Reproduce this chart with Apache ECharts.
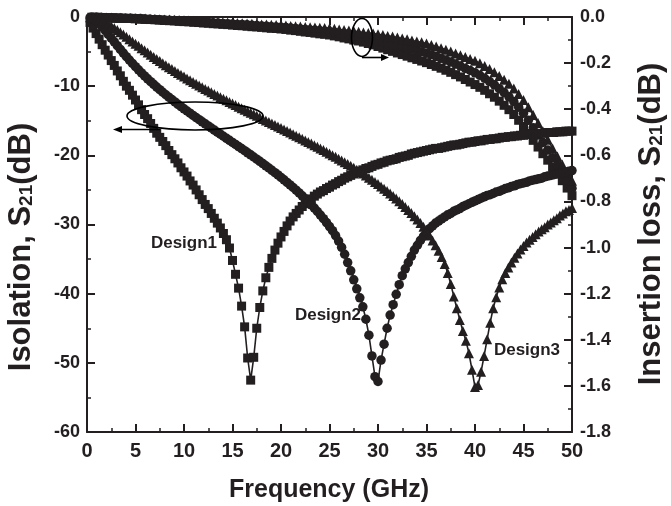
<!DOCTYPE html>
<html>
<head>
<meta charset="utf-8">
<script src="https://cdn.jsdelivr.net/npm/echarts@6/dist/echarts.min.js"></script>
<style>
html,body{margin:0;padding:0;background:#fff;}
#chart{width:671px;height:506px;}
</style>
</head>
<body>
<div id="chart"></div>
<script>
// Frequency grid of the isolation sweeps (GHz)
var freqIso = [0.3125,0.625,0.9375,1.25,1.5625,1.875,2.1875,2.5,2.8125,3.125,
3.4375,3.75,4.0625,4.375,4.6875,5,5.3125,5.625,5.9375,6.25,
6.5625,6.875,7.1875,7.5,7.8125,8.125,8.4375,8.75,9.0625,9.375,
9.6875,10,10.3125,10.625,10.9375,11.25,11.5625,11.875,12.1875,12.5,
12.8125,13.125,13.4375,13.75,14.0625,14.375,14.6875,15,15.3125,15.625,
15.9375,16.25,16.5625,16.875,17.1875,17.5,17.8125,18.125,18.4375,18.75,
19.0625,19.375,19.6875,20,20.3125,20.625,20.9375,21.25,21.5625,21.875,
22.1875,22.5,22.8125,23.125,23.4375,23.75,24.0625,24.375,24.6875,25,
25.3125,25.625,25.9375,26.25,26.5625,26.875,27.1875,27.5,27.8125,28.125,
28.4375,28.75,29.0625,29.375,29.6875,30,30.3125,30.625,30.9375,31.25,
31.5625,31.875,32.1875,32.5,32.8125,33.125,33.4375,33.75,34.0625,34.375,
34.6875,35,35.3125,35.625,35.9375,36.25,36.5625,36.875,37.1875,37.5,
37.8125,38.125,38.4375,38.75,39.0625,39.375,39.6875,40,40.3125,40.625,
40.9375,41.25,41.5625,41.875,42.1875,42.5,42.8125,43.125,43.4375,43.75,
44.0625,44.375,44.6875,45,45.3125,45.625,45.9375,46.25,46.5625,46.875,
47.1875,47.5,47.8125,48.125,48.4375,48.75,49.0625,49.375,49.6875,50];

// Isolation S21 (dB), left axis
var iso1 = [-0.8,-1.6,-2.4,-3.2,-4.0,-4.8,-5.5,-6.3,-7.0,-7.8,
-8.5,-9.3,-10.0,-10.6,-11.3,-12.0,-12.7,-13.4,-14.1,-14.7,
-15.4,-16.1,-16.8,-17.4,-18.0,-18.6,-19.3,-19.9,-20.5,-21.1,
-21.8,-22.4,-23.0,-23.7,-24.3,-25.0,-25.7,-26.4,-27.1,-27.7,
-28.4,-29.1,-29.8,-30.5,-31.3,-32.2,-33.4,-35.2,-37.2,-39.2,
-41.8,-44.8,-49.3,-52.5,-49.2,-45.0,-42.0,-39.6,-37.7,-36.2,
-34.9,-33.7,-32.7,-31.8,-31.0,-30.2,-29.5,-28.9,-28.4,-27.9,
-27.4,-27.0,-26.6,-26.3,-25.9,-25.6,-25.3,-25.1,-24.8,-24.6,
-24.3,-24.1,-23.8,-23.6,-23.3,-23.1,-22.9,-22.7,-22.5,-22.3,
-22.1,-21.9,-21.8,-21.6,-21.4,-21.3,-21.1,-21.0,-20.8,-20.7,
-20.6,-20.5,-20.3,-20.2,-20.1,-20.0,-19.8,-19.7,-19.6,-19.5,
-19.4,-19.3,-19.2,-19.1,-19.0,-19.0,-18.9,-18.8,-18.7,-18.6,
-18.5,-18.5,-18.4,-18.3,-18.2,-18.1,-18.1,-18.0,-17.9,-17.9,
-17.8,-17.7,-17.7,-17.6,-17.6,-17.5,-17.4,-17.4,-17.3,-17.3,
-17.2,-17.2,-17.1,-17.1,-17.0,-17.0,-16.9,-16.9,-16.9,-16.8,
-16.8,-16.7,-16.7,-16.7,-16.6,-16.6,-16.6,-16.5,-16.5,-16.5];

var iso2 = [-0.07,-0.26,-0.57,-0.97,-1.44,-1.95,-2.50,-3.04,-3.59,-4.14,
-4.69,-5.21,-5.73,-6.23,-6.72,-7.19,-7.64,-8.09,-8.52,-8.94,
-9.35,-9.74,-10.13,-10.51,-10.88,-11.24,-11.59,-11.94,-12.28,-12.62,
-12.95,-13.27,-13.59,-13.91,-14.23,-14.54,-14.84,-15.15,-15.45,-15.75,
-16.05,-16.35,-16.65,-16.94,-17.24,-17.54,-17.83,-18.13,-18.43,-18.73,
-19.02,-19.33,-19.63,-19.93,-20.24,-20.55,-20.87,-21.19,-21.51,-21.83,
-22.16,-22.50,-22.84,-23.19,-23.54,-23.91,-24.28,-24.65,-25.04,-25.44,
-25.85,-26.28,-26.71,-27.16,-27.63,-28.12,-28.63,-29.16,-29.72,-30.30,
-30.9,-31.6,-32.4,-33.3,-34.3,-35.5,-36.7,-38.0,-39.3,-40.6,
-41.9,-43.7,-46.0,-49.0,-52.0,-52.7,-49.6,-47.3,-45.0,-43.1,
-41.6,-40.1,-38.7,-37.4,-36.4,-35.5,-34.6,-33.7,-33.0,-32.3,
-31.7,-31.1,-30.6,-30.2,-29.8,-29.5,-29.2,-28.9,-28.6,-28.4,
-28.1,-27.9,-27.7,-27.4,-27.2,-27.0,-26.8,-26.6,-26.4,-26.2,
-26.0,-25.8,-25.7,-25.5,-25.3,-25.2,-25.0,-24.8,-24.7,-24.5,
-24.4,-24.2,-24.1,-24.0,-23.9,-23.7,-23.6,-23.5,-23.4,-23.3,
-23.1,-23.0,-22.9,-22.8,-22.7,-22.6,-22.5,-22.4,-22.3,-22.2];

var iso3 = [-0.02,-0.09,-0.21,-0.36,-0.55,-0.78,-1.02,-1.30,-1.58,-1.89,
-2.21,-2.53,-2.86,-3.20,-3.54,-3.85,-4.17,-4.50,-4.82,-5.14,
-5.46,-5.77,-6.07,-6.37,-6.67,-6.96,-7.25,-7.53,-7.81,-8.08,
-8.36,-8.62,-8.89,-9.15,-9.40,-9.66,-9.91,-10.16,-10.40,-10.64,
-10.88,-11.12,-11.36,-11.59,-11.82,-12.05,-12.28,-12.51,-12.74,-12.96,
-13.18,-13.41,-13.63,-13.85,-14.07,-14.29,-14.51,-14.73,-14.95,-15.17,
-15.39,-15.61,-15.83,-16.05,-16.27,-16.49,-16.71,-16.94,-17.16,-17.39,
-17.61,-17.84,-18.07,-18.30,-18.53,-18.77,-19.01,-19.24,-19.49,-19.73,
-19.98,-20.22,-20.48,-20.73,-20.99,-21.25,-21.52,-21.80,-22.07,-22.35,
-22.64,-22.93,-23.23,-23.53,-23.84,-24.16,-24.49,-24.82,-25.17,-25.52,
-25.88,-26.25,-26.64,-27.04,-27.46,-27.89,-28.33,-28.80,-29.29,-29.80,
-30.34,-30.91,-31.6,-32.3,-33.0,-33.8,-34.7,-35.7,-37.0,-38.6,
-40.4,-42.1,-43.8,-45.4,-46.8,-48.6,-51.0,-53.5,-53.2,-51.3,
-49.0,-46.6,-44.2,-42.1,-40.5,-39.1,-37.9,-37.0,-36.2,-35.5,
-34.8,-34.2,-33.6,-33.1,-32.6,-32.2,-31.8,-31.4,-31.0,-30.7,
-30.4,-30.0,-29.7,-29.4,-29.1,-28.7,-28.4,-28.1,-27.9,-27.6];

// Frequency grid of the insertion-loss sweeps (GHz)
var freqIL = [0.5,1,1.5,2,2.5,3,3.5,4,4.5,5,5.5,6,6.5,7,7.5,8,8.5,9,9.5,10,
10.5,11,11.5,12,12.5,13,13.5,14,14.5,15,15.5,16,16.5,17,17.5,18,18.5,19,19.5,20,
20.5,21,21.5,22,22.5,23,23.5,24,24.5,25,25.5,26,26.5,27,27.5,28,28.5,29,29.5,30,
30.5,31,31.5,32,32.5,33,33.5,34,34.5,35,35.5,36,36.5,37,37.5,38,38.5,39,39.5,40,
40.5,41,41.5,42,42.5,43,43.5,44,44.5,45,45.5,46,46.5,47,47.5,48,48.5,49,49.5,50];

// Insertion loss S21 (dB), right axis
var il1 = [-0.001,-0.001,-0.002,-0.003,-0.003,-0.004,-0.005,-0.006,-0.006,-0.007,
-0.008,-0.010,-0.011,-0.012,-0.013,-0.015,-0.016,-0.017,-0.019,-0.020,
-0.021,-0.023,-0.024,-0.026,-0.027,-0.029,-0.030,-0.032,-0.033,-0.035,
-0.037,-0.038,-0.040,-0.042,-0.043,-0.045,-0.047,-0.049,-0.050,-0.052,
-0.054,-0.057,-0.059,-0.062,-0.065,-0.067,-0.070,-0.073,-0.075,-0.078,
-0.082,-0.086,-0.091,-0.095,-0.100,-0.104,-0.109,-0.115,-0.121,-0.128,
-0.135,-0.142,-0.149,-0.156,-0.163,-0.170,-0.177,-0.184,-0.191,-0.198,
-0.206,-0.214,-0.222,-0.231,-0.240,-0.250,-0.260,-0.271,-0.282,-0.293,
-0.305,-0.318,-0.333,-0.348,-0.365,-0.383,-0.402,-0.423,-0.448,-0.475,
-0.505,-0.535,-0.564,-0.593,-0.621,-0.650,-0.680,-0.710,-0.742,-0.775];

var il2 = [-0.001,-0.001,-0.002,-0.003,-0.003,-0.004,-0.004,-0.005,-0.005,-0.006,
-0.007,-0.009,-0.010,-0.011,-0.012,-0.013,-0.014,-0.015,-0.016,-0.017,
-0.018,-0.020,-0.021,-0.022,-0.023,-0.025,-0.026,-0.028,-0.029,-0.030,
-0.032,-0.033,-0.034,-0.036,-0.037,-0.039,-0.040,-0.042,-0.043,-0.044,
-0.046,-0.048,-0.050,-0.052,-0.054,-0.056,-0.058,-0.060,-0.062,-0.064,
-0.067,-0.070,-0.074,-0.077,-0.081,-0.084,-0.088,-0.092,-0.097,-0.102,
-0.107,-0.112,-0.117,-0.123,-0.128,-0.134,-0.140,-0.145,-0.151,-0.157,
-0.164,-0.171,-0.179,-0.187,-0.195,-0.204,-0.213,-0.223,-0.232,-0.242,
-0.253,-0.266,-0.280,-0.294,-0.311,-0.328,-0.346,-0.367,-0.391,-0.418,
-0.448,-0.480,-0.512,-0.544,-0.577,-0.610,-0.643,-0.675,-0.709,-0.743];

var il3 = [0.000,-0.001,-0.001,-0.002,-0.002,-0.003,-0.003,-0.004,-0.004,-0.005,
-0.006,-0.007,-0.008,-0.009,-0.010,-0.011,-0.011,-0.012,-0.013,-0.014,
-0.015,-0.016,-0.017,-0.018,-0.019,-0.020,-0.022,-0.023,-0.024,-0.025,
-0.026,-0.027,-0.028,-0.029,-0.031,-0.032,-0.033,-0.034,-0.035,-0.036,
-0.037,-0.039,-0.040,-0.041,-0.043,-0.044,-0.045,-0.047,-0.048,-0.049,
-0.051,-0.054,-0.056,-0.059,-0.061,-0.064,-0.067,-0.069,-0.072,-0.075,
-0.078,-0.082,-0.085,-0.089,-0.093,-0.097,-0.102,-0.106,-0.110,-0.115,
-0.121,-0.128,-0.135,-0.142,-0.150,-0.158,-0.166,-0.174,-0.182,-0.190,
-0.201,-0.213,-0.226,-0.240,-0.256,-0.272,-0.290,-0.310,-0.334,-0.360,
-0.391,-0.425,-0.460,-0.495,-0.532,-0.570,-0.605,-0.640,-0.675,-0.710];

var designNames = ['Design1','Design2','Design3'];

var INK = '#231f20';
var FONT = "'Liberation Sans', Arial, Helvetica, sans-serif";

function pairs(xs, ys){ return xs.map(function(x,i){ return [x, ys[i]]; }); }

function lineSeries(name, xs, vals, symbol, yIdx, size){
  return {
    name: name, type: 'line', yAxisIndex: yIdx, xAxisIndex: 0,
    data: pairs(xs, vals),
    symbol: symbol, symbolSize: size, showSymbol: true, showAllSymbol: true,
    lineStyle: { color: INK, width: 1.6 },
    itemStyle: { color: INK, borderWidth: 0 },
    emphasis: { disabled: true },
    clip: true, z: 3
  };
}

var axisCommon = {
  axisLine: { show: true, onZero: false, lineStyle: { color: INK, width: 2 } },
  axisTick: { show: true, inside: true, length: 8, lineStyle: { color: INK, width: 2 } },
  minorTick: { show: true, splitNumber: 2, length: 4, lineStyle: { color: INK, width: 1.5 } },
  splitLine: { show: false },
  minorSplitLine: { show: false }
};
function merge(a, b){ var o = {}; for (var k in a) o[k] = a[k]; for (var k2 in b) o[k2] = b[k2]; return o; }

var chart = echarts.init(document.getElementById('chart'), null, { renderer: 'canvas' });

var option = {
  animation: false,
  backgroundColor: '#ffffff',
  grid: { left: 87, right: 99, top: 17, bottom: 74, containLabel: false },
  xAxis: [
    merge(axisCommon, {
      type: 'value', position: 'bottom', min: 0, max: 50, interval: 5,
      axisLabel: { show: true, margin: 9, color: INK, fontFamily: FONT, fontWeight: 'bold', fontSize: 20 }
    }),
    merge(axisCommon, {
      type: 'value', position: 'top', min: 0, max: 50, interval: 5,
      axisLabel: { show: false }
    })
  ],
  yAxis: [
    merge(axisCommon, {
      type: 'value', position: 'left', min: -60, max: 0, interval: 10,
      axisLabel: { show: true, margin: 7, color: INK, fontFamily: FONT, fontWeight: 'bold', fontSize: 18 }
    }),
    merge(axisCommon, {
      type: 'value', position: 'right', min: -1.8, max: 0, interval: 0.2,
      axisLabel: { show: true, margin: 8, color: INK, fontFamily: FONT, fontWeight: 'bold', fontSize: 18,
        formatter: function(v){ var s = (Math.round(v*10)/10).toFixed(1); return s === '-0.0' ? '0.0' : s; } }
    })
  ],
  series: [
    lineSeries('IL ' + designNames[0], freqIL, il1, 'rect', 1, 9),
    lineSeries('IL ' + designNames[1], freqIL, il2, 'circle', 1, 9.5),
    lineSeries('IL ' + designNames[2], freqIL, il3, 'triangle', 1, 10),
    lineSeries(designNames[0], freqIso, iso1, 'rect', 0, 9),
    lineSeries(designNames[1], freqIso, iso2, 'circle', 0, 9.5),
    lineSeries(designNames[2], freqIso, iso3, 'triangle', 0, 10)
  ],
  graphic: [
    { type: 'text', x: 21, y: 247, rotation: Math.PI/2, z: 10,
      style: { text: '{a|Isolation, S}{b|21}{a|(dB)}', align: 'center', verticalAlign: 'middle',
        rich: { a: { fontSize: 31, fontWeight: 'bold', fontFamily: FONT, fill: INK },
                b: { fontSize: 19, fontWeight: 'bold', fontFamily: FONT, fill: INK, verticalAlign: 'bottom', padding: [12,0,0,0] } } } },
    { type: 'text', x: 651, y: 224, rotation: Math.PI/2, z: 10,
      style: { text: '{a|Insertion loss, S}{b|21}{a|(dB)}', align: 'center', verticalAlign: 'middle',
        rich: { a: { fontSize: 31, fontWeight: 'bold', fontFamily: FONT, fill: INK },
                b: { fontSize: 19, fontWeight: 'bold', fontFamily: FONT, fill: INK, verticalAlign: 'bottom', padding: [12,0,0,0] } } } },
    { type: 'text', x: 329, y: 490, z: 10,
      style: { text: 'Frequency (GHz)', align: 'center', verticalAlign: 'middle',
        fontSize: 25, fontWeight: 'bold', fontFamily: FONT, fill: INK } },
    { type: 'text', x: 184, y: 243, z: 10, style: { text: designNames[0], align: 'center', verticalAlign: 'middle', fontSize: 17, fontWeight: 'bold', fontFamily: FONT, fill: INK } },
    { type: 'text', x: 328, y: 315, z: 10, style: { text: designNames[1], align: 'center', verticalAlign: 'middle', fontSize: 17, fontWeight: 'bold', fontFamily: FONT, fill: INK } },
    { type: 'text', x: 527, y: 350, z: 10, style: { text: designNames[2], align: 'center', verticalAlign: 'middle', fontSize: 17, fontWeight: 'bold', fontFamily: FONT, fill: INK } },
    { type: 'ellipse', z: 10, shape: { cx: 195, cy: 116, rx: 68, ry: 14 }, style: { fill: null, stroke: '#000', lineWidth: 1.6 } },
    { type: 'line', z: 10, shape: { x1: 160, y1: 129.5, x2: 119, y2: 129.5 }, style: { stroke: '#000', lineWidth: 1.6 } },
    { type: 'polygon', z: 10, shape: { points: [[113,129.5],[122,126],[122,133]] }, style: { fill: '#000' } },
    { type: 'ellipse', z: 10, shape: { cx: 362, cy: 37.5, rx: 10.5, ry: 19 }, style: { fill: null, stroke: '#000', lineWidth: 1.6 } },
    { type: 'line', z: 10, shape: { x1: 362, y1: 57.5, x2: 383, y2: 57.5 }, style: { stroke: '#000', lineWidth: 1.6 } },
    { type: 'polygon', z: 10, shape: { points: [[389,57.5],[381,54],[381,61]] }, style: { fill: '#000' } }
  ]
};
chart.setOption(option);
</script>
</body>
</html>
